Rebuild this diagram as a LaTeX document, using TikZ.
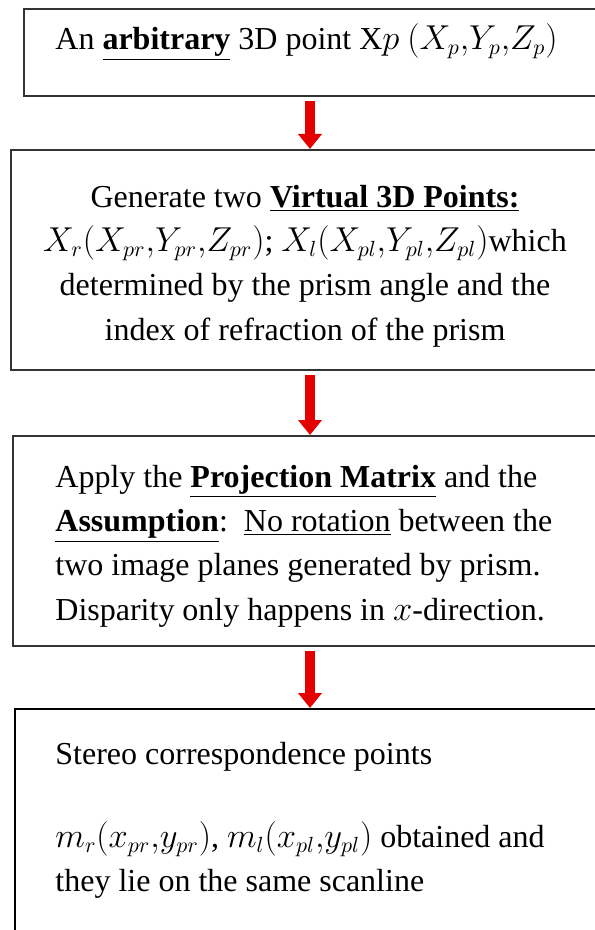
\documentclass[tikz,border=0pt]{standalone}
\usepackage{fontspec}
\setmainfont{Liberation Serif}
\usetikzlibrary{arrows.meta,calc}
\begin{document}
\begin{tikzpicture}[x=0.5pt,y=-0.5pt,
  box/.style={draw=black!80, line width=1.1pt, rectangle, anchor=north west, inner sep=0pt},
  txt/.style={font=\fontsize{16}{22.2}\selectfont, inner sep=0pt},
  arr/.style={draw=red!90!black, line width=5pt, -{Triangle[width=11.5pt,length=7.5pt]}},
]
\useasboundingbox (0,0) rectangle (594,930);
\node[box, minimum width=290.5pt, minimum height=43.5pt] (b1) at (23,8) {};
\node[box, minimum width=297pt, minimum height=110pt] (b2) at (10,149) {};
\node[box, minimum width=296pt, minimum height=105pt] (b3) at (12,435) {};
\node[box, draw=black, minimum width=295pt, minimum height=116pt] (b4) at (14,708) {};

\node[txt, anchor=west] (t1) at (55,42) {An \textbf{\underline{arbitrary}} 3D point X$p$ $(X_p,\!Y_p,\!Z_p)$};
\node[txt, align=center] (t2) at (305,266) {Generate two \textbf{\underline{Virtual 3D Points:}}\\
$X_r(X_{pr},\!Y_{pr},\!Z_{pr})$; $X_l(X_{pl},\!Y_{pl},\!Z_{pl})$which\\
determined by the prism angle and the\\
index of refraction of the prism};
\node[txt, align=left, anchor=west] (t3) at (55,546) {Apply the \textbf{\underline{Projection Matrix}} and the\\
\textbf{\underline{Assumption}}:\ \ \underline{No rotation} between the\\
two image planes generated by prism.\\
Disparity only happens in $x$-direction.};
\node[txt, anchor=west] (t4) at (55,757) {Stereo correspondence points};
\node[txt, align=left, anchor=west] (t5) at (55,860) {$m_r(x_{pr},\!y_{pr})$, $m_l(x_{pl},\!y_{pl})$ obtained and\\
they lie on the same scanline};

\coordinate (ax) at (310,0);
\draw[arr, shorten <=2pt] (ax |- b1.south) -- (ax |- b2.north);
\draw[arr, shorten <=2pt] (ax |- b2.south) -- (ax |- b3.north);
\draw[arr, shorten <=2pt] (ax |- b3.south) -- (ax |- b4.north);
\end{tikzpicture}
\end{document}
